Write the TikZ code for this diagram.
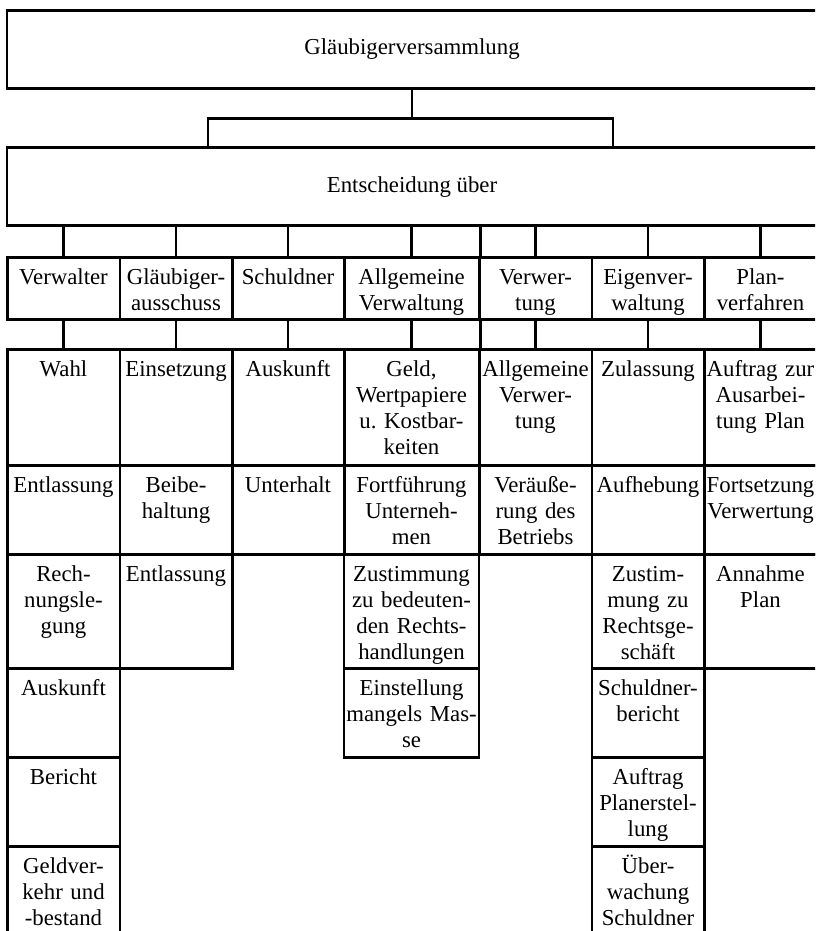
\documentclass[tikz,border=0pt]{standalone}
\usepackage{fontspec}
\setmainfont{Liberation Serif}
\begin{document}
\begin{tikzpicture}[x=1pt, y=-1pt,
	font=\fontsize{22.8}{26}\selectfont,
	conn/.style={line width=2.5pt},
	big/.style={draw, line width=2.5pt, minimum width=810pt, minimum height=78pt},
	cell/.style={draw, line width=2.5pt, anchor=north, align=center, text width=112.5pt, inner xsep=0pt, inner ysep=11pt, text height=16pt},
	wide/.style={text width=135pt},
	head/.style={text depth=24pt},
	rowa/.style={text depth=78pt},
	rowb/.style={text depth=51pt},
	rowc/.style={text depth=76pt},
	rowd/.style={text depth=57pt}]
		
		\useasboundingbox (0,0) rectangle (815,931);
		\clip (0,0) rectangle (815,931);
		
		\node[big] (G) at (412,49.5) {Gläubigerversammlung};
		\node[big] (E) at (412,186.7) {Entscheidung über};
		\coordinate (L) at (208,118.3);
		\coordinate (R) at (613,118.3);
		
		\draw[conn] (G) -- (G |- L);
		\draw[conn] (L |- E.north) -- (L) -- (R) -- (R |- E.north);
		
		\node[cell, head] (V) at (63.5,256) {Verwalter};
		\node[cell, head] (GA) at (176,256) {Gläubiger-\\ausschuss};
		\node[cell, head] (S) at (288,256) {Schuldner};
		\node[cell, head, wide] (AV) at (411.5,256) {Allgemeine\\Verwaltung};
		\node[cell, head] (VW) at (535.5,256) {Verwer-\\tung};
		\node[cell, head] (EV) at (648,256) {Eigenver-\\waltung};
		\node[cell, head] (PV) at (760.5,256) {Plan-\\verfahren};
		
		\node[cell, rowa] (V1) at (63.5,348) {Wahl};
		\node[cell, rowb] (V2) at (63.5,464) {Entlassung};
		\node[cell, rowc] (V3) at (63.5,553) {Rech-\\nungsle-\\gung};
		\node[cell, rowb] (V4) at (63.5,667) {Auskunft};
		\node[cell, rowb] (V5) at (63.5,756) {Bericht};
		\node[cell, rowd] (V6) at (63.5,845) {Geldver-\\kehr und\\-bestand};
		
		\node[cell, rowa] (GA1) at (176,348) {Einsetzung};
		\node[cell, rowb] (GA2) at (176,464) {Beibe-\\haltung};
		\node[cell, rowc] (GA3) at (176,553) {Entlassung};
		
		\node[cell, rowa] (S1) at (288,348) {Auskunft};
		\node[cell, rowb] (S2) at (288,464) {Unterhalt};
		
		\node[cell, rowa, wide] (AV1) at (411.5,348) {Geld,\\Wertpapiere\\u.\ Kostbar-\\keiten};
		\node[cell, rowb, wide] (AV2) at (411.5,464) {Fortführung\\Unterneh-\\men};
		\node[cell, rowc, wide] (AV3) at (411.5,553) {Zustimmung\\zu bedeuten-\\den Rechts-\\handlungen};
		\node[cell, rowb, wide] (AV4) at (411.5,667) {Einstellung\\mangels Mas-\\se};
		
		\node[cell, rowa] (VW1) at (535.5,348) {Allgemeine\\Verwer-\\tung};
		\node[cell, rowb] (VW2) at (535.5,464) {Veräuße-\\rung des\\Betriebs};
		
		\node[cell, rowa] (EV1) at (648,348) {Zulassung};
		\node[cell, rowb] (EV2) at (648,464) {Aufhebung};
		\node[cell, rowc] (EV3) at (648,553) {Zustim-\\mung zu\\Rechtsge-\\schäft};
		\node[cell, rowb] (EV4) at (648,667) {Schuldner-\\bericht};
		\node[cell, rowb] (EV5) at (648,756) {Auftrag\\Planerstel-\\lung};
		\node[cell, rowd] (EV6) at (648,845) {Über-\\wachung\\Schuldner};
		
		\node[cell, rowa] (PV1) at (760.5,348) {Auftrag zur\\Ausarbei-\\tung Plan};
		\node[cell, rowb] (PV2) at (760.5,464) {Fortsetzung\\Verwertung};
		\node[cell, rowc] (PV3) at (760.5,553) {Annahme\\Plan};
		
		\draw[conn] (E.south -| V.north) -- (V.north);
		\draw[conn] (E.south -| GA.north) -- (GA.north);
		\draw[conn] (E.south -| S.north) -- (S.north);
		\draw[conn] (E.south -| AV.north) -- (AV.north);
		\draw[conn] (E.south -| AV.north east) -- (AV.north east);
		\draw[conn] (E.south -| VW.north) -- (VW.north);
		\draw[conn] (E.south -| EV.north) -- (EV.north);
		\draw[conn] (E.south -| PV.north) -- (PV.north);
		
		\draw[conn] (V) -- (V1);
		\draw[conn] (GA) -- (GA1);
		\draw[conn] (S) -- (S1);
		\draw[conn] (AV) -- (AV1);
		\draw[conn] (AV.south east) -- (AV1.north east);
		\draw[conn] (VW) -- (VW1);
		\draw[conn] (EV) -- (EV1);
		\draw[conn] (PV) -- (PV1);
	\end{tikzpicture}
\end{document}
